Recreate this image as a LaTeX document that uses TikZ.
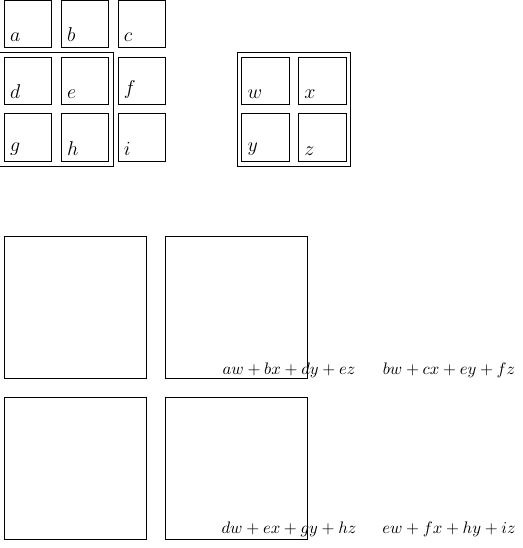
\documentclass[tikz,border=0pt]{standalone}
\usetikzlibrary{fit}
\begin{document}
\begin{tikzpicture}[x=0.6pt,y=-0.6pt,
  cell/.style={draw,minimum size=1cm,inner sep=0pt,outer sep=0pt},
  big/.style={draw,minimum size=3cm,inner sep=0pt,outer sep=0pt},
  lab/.style={anchor=south west,font=\large},
  grp/.style={draw,inner sep=0.1cm,fit=#1},
  sumtext/.style={anchor=base,inner sep=0pt}]
\useasboundingbox (0,0) rectangle (522,548);
% 3x3 grid
\foreach \n/\cx/\cy in {a/28/23.7,b/84.9/23.7,c/141.8/23.7,
                        d/28/80.6,e/84.9/80.6,f/141.8/80.6,
                        g/28/137.5,h/84.9/137.5,i/141.8/137.5}{
  \node[cell] (\n) at (\cx,\cy) {};
  \node[lab] (l\n) at (\n.south west) {$\n$};
}
\node[grp={(d)(e)(g)(h)}] (G1) {};
% 2x2 kernel
\foreach \n/\cx/\cy in {w/265.4/80.6,x/322.3/80.6,y/265.4/137.5,z/322.3/137.5}{
  \node[cell] (\n) at (\cx,\cy) {};
  \node[lab] (l\n) at (\n.south west) {$\n$};
}
\node[grp={(w)(x)(y)(z)}] (G2) {};
% result boxes
\node[big] (R1) at (75.5,307.2) {};
\node[big] (R2) at (236.5,307.2) {};
\node[big] (R3) at (75.5,468.2) {};
\node[big] (R4) at (236.5,468.2) {};
% sums
\node[sumtext] (s1) at (289,374) {$aw+bx+dy+ez$};
\node[sumtext] (s2) at (449,374) {$bw+cx+ey+fz$};
\node[sumtext] (s3) at (289,533.5) {$dw+ex+gy+hz$};
\node[sumtext] (s4) at (449,533.5) {$ew+fx+hy+iz$};
\end{tikzpicture}
\end{document}
